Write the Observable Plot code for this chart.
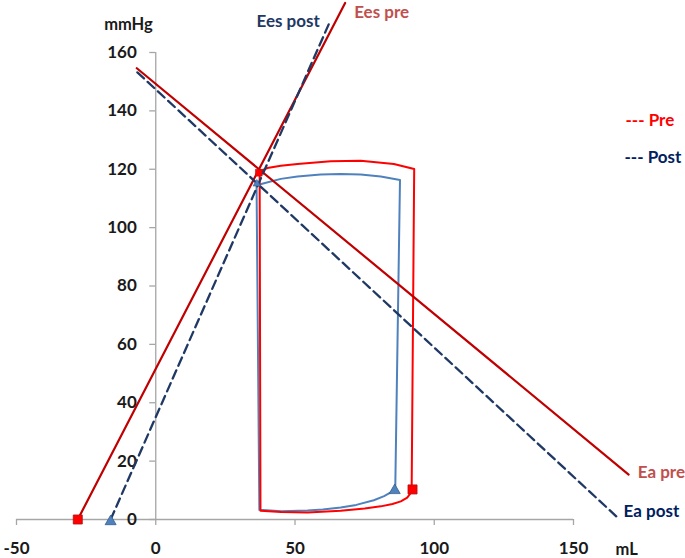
<!DOCTYPE html>
<html>
<head>
<meta charset="utf-8">
<script src="https://cdn.jsdelivr.net/npm/d3@7"></script>
<script src="https://cdn.jsdelivr.net/npm/@observablehq/plot@0.6"></script>
<style>
  html, body { margin: 0; padding: 0; background: #fff; }
  #chart svg { display: block; }
</style>
</head>
<body>
<div id="chart"></div>
<script>
// Axis ticks
const xTicks = [-50, 0, 50, 100, 150];
const yTicks = [0, 20, 40, 60, 80, 100, 120, 140, 160];

// Elastance lines [volume mL, pressure mmHg]
const eesPre  = [[-28, 0], [68, 177]];
const eesPost = [[-16.2, 0], [62.5, 170.5]];
const eaPre   = [[-6.8, 154.6], [169.8, 15.4]];
const eaPost  = [[-6.6, 153.2], [165.8, 0.7]];

// Pressure-volume loops
const preLoop = [
  [37.6, 3.0], [45, 2.6], [54.5, 2.4], [66.4, 3.0], [75, 3.8], [80.8, 4.5],
  [85, 5.3], [88, 6.2], [90.3, 7.5], [91.5, 9], [91.9, 12], [92.8, 120.1],
  [85.5, 121.8], [73.6, 122.9], [62.8, 122.7], [50.9, 121.8], [44.9, 121.2],
  [40.1, 120.4], [37.3, 119.3], [37.6, 3.0]
];
const postLoop = [
  [37.2, 3.3], [45, 2.8], [54.5, 3.1], [60, 3.4], [66.4, 4.1], [72, 5.0],
  [78.3, 6.6], [82, 8], [85, 9.6], [86, 10.5], [87.7, 116.3],
  [80.8, 117.5], [73.6, 118.2], [66.4, 118.4], [59.2, 118.2], [50.9, 117.5],
  [44.9, 116.7], [38.9, 115.2], [36.2, 114.5], [37.2, 3.3]
];

// Key points
const preEndSystole   = [[37, 118.8]];
const postEndSystole  = [[36.3, 115]];
const preEndDiastole  = [[92.2, 10.3]];
const postEndDiastole = [[85.8, 10.3]];
const preV0  = [[-28, 0]];
const postV0 = [[-16.2, 0]];

const DARKRED = "#c00000", NAVY = "#1f3864", RED = "#ff0000", BLUE = "#4f81bd";
const AXIS = "#a6a6a6", TXT = "#1a1a1a";

const chart = Plot.plot({
  width: 685, height: 558,
  marginLeft: 16, marginRight: 112, marginTop: 52, marginBottom: 39,
  x: {domain: [-50, 150], axis: null},
  y: {domain: [0, 160], axis: null},
  style: {fontFamily: "Lato, 'Open Sans', sans-serif", background: "white"},
  marks: [
    // axes
    Plot.ruleY([0], {x1: -50, x2: 150, stroke: AXIS, strokeWidth: 1.3}),
    Plot.ruleX([0], {y1: 0, y2: 160, stroke: AXIS, strokeWidth: 1.3}),
    Plot.ruleX(xTicks, {y1: 0, y2: 0, insetBottom: -6, stroke: AXIS, strokeWidth: 1.3}),
    Plot.ruleY(yTicks, {x1: 0, x2: 0, insetLeft: -6, stroke: AXIS, strokeWidth: 1.3}),
    Plot.text(xTicks, {x: d => d, y: 0, dy: 29, text: d => String(d), fontSize: 17, fontWeight: "bold", fill: TXT}),
    Plot.text(yTicks, {x: 0, y: d => d, dx: -19, textAnchor: "end", text: d => String(d), fontSize: 17, fontWeight: "bold", fill: TXT}),
    Plot.text(["mmHg"], {x: 0, y: 160, dx: -3, dy: -28, textAnchor: "end", fontSize: 16.5, fontWeight: "bold", fill: TXT}),
    Plot.text(["mL"], {x: 150, y: 0, dx: 42, dy: 30, textAnchor: "start", fontSize: 16.5, fontWeight: "bold", fill: TXT}),

    // loops
    Plot.line(postLoop, {stroke: BLUE, strokeWidth: 2}),
    Plot.line(preLoop, {stroke: RED, strokeWidth: 2}),

    // elastance lines
    Plot.line(eesPre, {stroke: DARKRED, strokeWidth: 2.2}),
    Plot.line(eaPre, {stroke: DARKRED, strokeWidth: 2.2}),
    Plot.line(eesPost, {stroke: NAVY, strokeWidth: 2.3, strokeDasharray: "9,5"}),
    Plot.line(eaPost, {stroke: NAVY, strokeWidth: 2.3, strokeDasharray: "9,5"}),

    // markers
    Plot.dot(preV0, {symbol: "square", r: 5.1, fill: RED, stroke: "#b01010", strokeWidth: 0.8}),
    Plot.dot(postV0, {symbol: "triangle", r: 4.1, dy: 2, fill: BLUE, stroke: "#385d8a", strokeWidth: 0.8}),
    Plot.dot(preEndDiastole, {symbol: "square", r: 5.1, fill: RED, stroke: "#b01010", strokeWidth: 0.8}),
    Plot.dot(postEndDiastole, {symbol: "triangle", r: 4.1, dy: 1, fill: BLUE, stroke: "#385d8a", strokeWidth: 0.8}),
    Plot.dot(postEndSystole, {symbol: "triangle", r: 2.8, fill: BLUE, stroke: "#385d8a", strokeWidth: 0.6}),
    Plot.dot(preEndSystole, {symbol: "square", r: 3.8, fill: RED, stroke: "#b01010", strokeWidth: 0.6}),

    // line labels
    Plot.text(eesPre.slice(1), {text: () => "Ees pre", dx: 9, dy: 10, textAnchor: "start", fontSize: 17, fontWeight: "bold", fill: "#c0504d"}),
    Plot.text(eesPost.slice(1), {text: () => "Ees post", dx: -10, dy: 0, textAnchor: "end", fontSize: 17, fontWeight: "bold", fill: NAVY}),
    Plot.text(eaPre.slice(1), {text: () => "Ea pre", dx: 9, dy: -2, textAnchor: "start", fontSize: 17, fontWeight: "bold", fill: "#c0504d"}),
    Plot.text(eaPost.slice(1), {text: () => "Ea post", dx: 6, dy: -6, textAnchor: "start", fontSize: 17, fontWeight: "bold", fill: "#002060"}),

    // legend
    Plot.text(["--- Pre"], {frameAnchor: "top-right", textAnchor: "start", dx: 52, dy: 61, fontSize: 17, fontWeight: "bold", fill: RED}),
    Plot.text(["--- Post"], {frameAnchor: "top-right", textAnchor: "start", dx: 51, dy: 98, fontSize: 17, fontWeight: "bold", fill: "#002060"})
  ]
});
document.getElementById("chart").appendChild(chart);
</script>
</body>
</html>
